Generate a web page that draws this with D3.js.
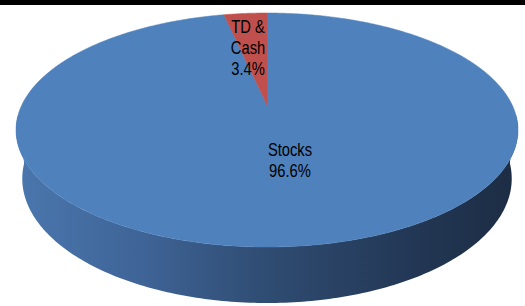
<!DOCTYPE html>
<html>
<head>
<meta charset="utf-8">
<script src="https://cdn.jsdelivr.net/npm/d3@7"></script>
<style>
  body { margin: 0; background: #fff; }
  svg { display: block; }
</style>
</head>
<body>
<div id="chart"></div>
<script>
const categories = ["Stocks", "TD & Cash"];
const values = [96.6, 3.4];
const sliceColors = ["#4F81BD", "#C0504D"];
const labelLines = [["Stocks", "96.6%"], ["TD &", "Cash", "3.4%"]];

const width = 525, height = 306;

// perspective of the 3D pie (fitted to the picture)
const cx = 267, cy0 = 105, F = 1021.5, D = 4.166;
const sinA = 0.4554, cosA = 0.8903, thick = 0.2238;

function project(phi, depth) {
  const u = Math.sin(phi), v = -Math.cos(phi);
  const Y = -depth;
  const s = -Y * cosA + v * sinA;
  const d = D - (v * cosA + Y * sinA);
  return [cx + F * u / d, cy0 + F * s / d];
}

const svg = d3.select("#chart").append("svg")
  .attr("width", width)
  .attr("height", height);

svg.append("rect")
  .attr("x", 0).attr("y", 0)
  .attr("width", width).attr("height", 5)
  .attr("fill", "#000");

const pie = d3.pie().sort(null).value(d => d.value);
const arcs = pie(categories.map((c, i) => ({ name: c, value: values[i], color: sliceColors[i], lines: labelLines[i] })));

const line = d3.line();

// side wall shading, left to right
const grad = svg.append("defs").append("linearGradient")
  .attr("id", "wall")
  .attr("gradientUnits", "userSpaceOnUse")
  .attr("x1", 16).attr("x2", 518).attr("y1", 0).attr("y2", 0);
[[0, "#4a77ae"], [0.25, "#3f6497"], [0.5, "#2f4c72"], [0.78, "#233856"], [1, "#1c2c43"]]
  .forEach(([o, c]) => grad.append("stop").attr("offset", o).attr("stop-color", c));

// front wall: from right tangent round the near side to the left tangent
const a0 = Math.PI * 95 / 180, a1 = Math.PI * 265 / 180;
const angles = d3.range(0, 201).map(i => a0 + (a1 - a0) * i / 200);
const wallPts = angles.map(p => project(p, 0))
  .concat(angles.slice().reverse().map(p => project(p, thick)));

svg.append("path")
  .attr("d", line(wallPts) + "Z")
  .attr("fill", "url(#wall)");

// top faces
svg.append("g").selectAll("path")
  .data(arcs)
  .join("path")
  .attr("d", a => {
    const n = Math.max(4, Math.ceil((a.endAngle - a.startAngle) / 0.01));
    const pts = [[cx, cy0]];
    for (let i = 0; i <= n; i++) {
      const p = a.startAngle + (a.endAngle - a.startAngle) * i / n;
      pts.push(project(p, 0));
    }
    return line(pts) + "Z";
  })
  .attr("fill", a => a.data.color)
  .attr("stroke", a => a.data.color)
  .attr("stroke-width", 0.5);

// labels (narrow face)
const labelPos = { "Stocks": [290, 156, 21.5], "TD & Cash": [248, 33, 21] };

arcs.forEach(a => {
  const [lx, ly, lh] = labelPos[a.data.name];
  const t = svg.append("g")
    .attr("transform", `translate(${lx},0) scale(0.82,1)`)
    .append("text")
    .attr("text-anchor", "middle")
    .attr("fill", "#000")
    .style("font-family", "'Liberation Sans', Arial, sans-serif")
    .style("font-size", "18px");
  a.data.lines.forEach((s, i) => {
    t.append("tspan")
      .attr("x", 0)
      .attr("y", ly + i * lh)
      .text(s);
  });
});
</script>
</body>
</html>
